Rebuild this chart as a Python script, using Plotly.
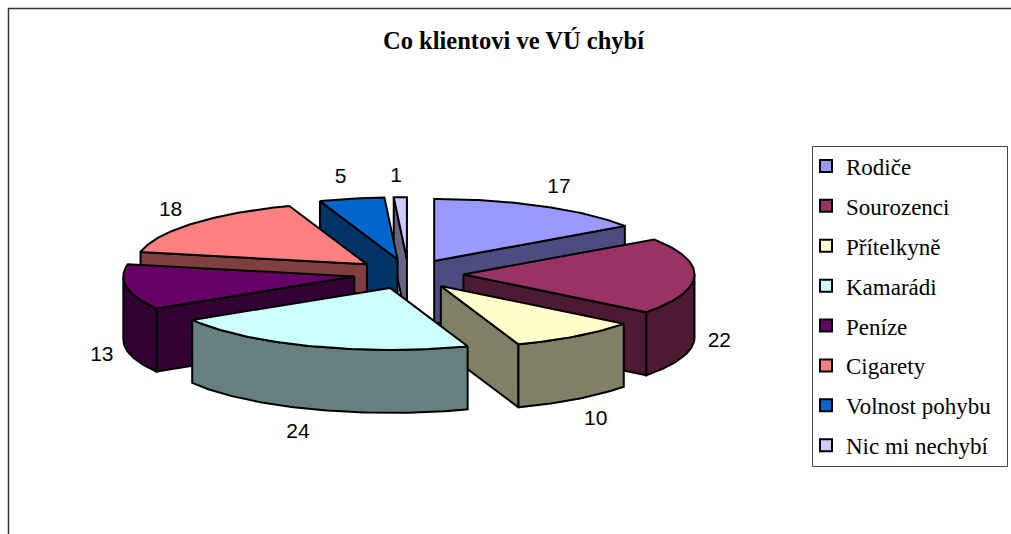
import math
import plotly.graph_objects as go

TITLE = "Co klientovi ve VÚ chybí"
categories = ["Rodiče", "Sourozenci", "Přítelkyně", "Kamarádi", "Peníze", "Cigarety", "Volnost pohybu", "Nic mi nechybí"]
values = [17, 22, 10, 24, 13, 18, 5, 1]
colors = ["#9999FF", "#993366", "#FFFFCC", "#CCFFFF", "#660066", "#FF8080", "#0066CC", "#CCCCFF"]
paint_order = [0, 7, 6, 5, 4, 1, 2, 3]

# projection of the tilted, exploded pie onto the pixel-sized axes
CX, CY, RX, RY, EXPLODE, DEPTH = 408.5, 274.0, 231.0, 62.0, 55.0, 63.0
LINE = 2.0


def darker(hex_color):
    return "#%02X%02X%02X" % tuple(round(int(hex_color[i:i + 2], 16) / 2) for i in (1, 3, 5))


def pt(apex, deg):
    a = math.radians(deg)
    return apex[0] + RX * math.sin(a), apex[1] - RY * math.cos(a)


def arc(apex, d0, d1, step=1.0):
    n = max(2, int(abs(d1 - d0) / step) + 1)
    return [pt(apex, d0 + (d1 - d0) * i / (n - 1)) for i in range(n)]


total = sum(values)
spans = []
acc = 0.0
for v in values:
    d0 = acc / total * 360
    acc += v
    spans.append((d0, acc / total * 360))

fig = go.Figure()


def poly(points, fill, name):
    pts = list(points) + [points[0]]
    fig.add_trace(go.Scatter(
        x=[p[0] for p in pts], y=[p[1] for p in pts], mode="lines", fill="toself",
        fillcolor=fill, line=dict(color="black", width=LINE), showlegend=False,
        hoverinfo="skip", name=name))


for i in paint_order:
    d0, d1 = spans[i]
    mid = math.radians((d0 + d1) / 2)
    apex = (CX + EXPLODE * math.sin(mid), CY - EXPLODE * RY / RX * math.cos(mid))
    wall = darker(colors[i])
    down = lambda p: (p[0], p[1] + DEPTH)
    if math.sin(math.radians(d0)) < -1e-6:
        e = pt(apex, d0)
        poly([apex, e, down(e), down(apex)], wall, categories[i])
    if math.sin(math.radians(d1)) > 1e-6:
        e = pt(apex, d1)
        poly([apex, e, down(e), down(apex)], wall, categories[i])
    w0, w1 = max(d0, 90), min(d1, 270)
    if w1 > w0:
        top = arc(apex, w0, w1)
        poly(top + [down(p) for p in reversed(top)], wall, categories[i])
    poly([apex] + arc(apex, d0, d1), colors[i], categories[i])

# value labels, placed outside each slice from its mid-angle
lx, ly = [], []
for i, (d0, d1) in enumerate(spans):
    mid = math.radians((d0 + d1) / 2)
    s, c = math.sin(mid), math.cos(mid)
    apex = (CX + EXPLODE * s, CY - EXPLODE * RY / RX * c)
    ex, ey = pt(apex, (d0 + d1) / 2)
    lx.append(ex + math.copysign(25 * math.sqrt(abs(s)), s))
    ly.append(ey - 23 * c + (DEPTH if c < 0 else 0) + 2)
fig.add_trace(go.Scatter(
    x=lx, y=ly, mode="text", text=[str(v) for v in values], textposition="middle center",
    textfont=dict(family="Liberation Sans", size=21, color="black"),
    showlegend=False, hoverinfo="skip"))

# legend entries
for i, name in enumerate(categories):
    fig.add_trace(go.Scatter(
        x=[None], y=[None], mode="markers", name=name, legendgroup=name,
        marker=dict(symbol="square", size=12, color=colors[i], line=dict(color="black", width=2))))

fig.update_xaxes(range=[0, 1011], visible=False, fixedrange=True)
fig.update_yaxes(range=[534, 0], visible=False, fixedrange=True)
fig.update_layout(
    width=1011, height=534, autosize=False, margin=dict(l=0, r=0, t=0, b=0),
    paper_bgcolor="white", plot_bgcolor="white",
    title=dict(text="<b>%s</b>" % TITLE, x=513.5 / 1011, y=1 - 40 / 534, xanchor="center", yanchor="middle",
               font=dict(family="Liberation Serif", size=24.5, color="black")),
    legend=dict(x=806 / 1011, y=1 - 144.5 / 534, xanchor="left", yanchor="top",
                borderwidth=0, bgcolor="rgba(0,0,0,0)",
                font=dict(family="Liberation Serif", size=23, color="black"),
                tracegroupgap=7, itemclick=False, itemdoubleclick=False,
                entrywidth=165, entrywidthmode="pixels"),
    shapes=[
        dict(type="line", xref="x", yref="y", x0=8, x1=1011, y0=8.5, y1=8.5, line=dict(color="#333333", width=1.5)),
        dict(type="line", xref="x", yref="y", x0=8.5, x1=8.5, y0=8, y1=534, line=dict(color="#333333", width=1.5)),
        dict(type="rect", xref="x", yref="y", x0=812.5, x1=1007.5, y0=146.5, y1=466.5,
             line=dict(color="#444444", width=1), fillcolor="rgba(0,0,0,0)"),
    ],
)
fig.write_html("out.html", config=dict(displayModeBar=False),
               post_script="document.body.style.margin='0';document.documentElement.style.overflow='hidden';")
